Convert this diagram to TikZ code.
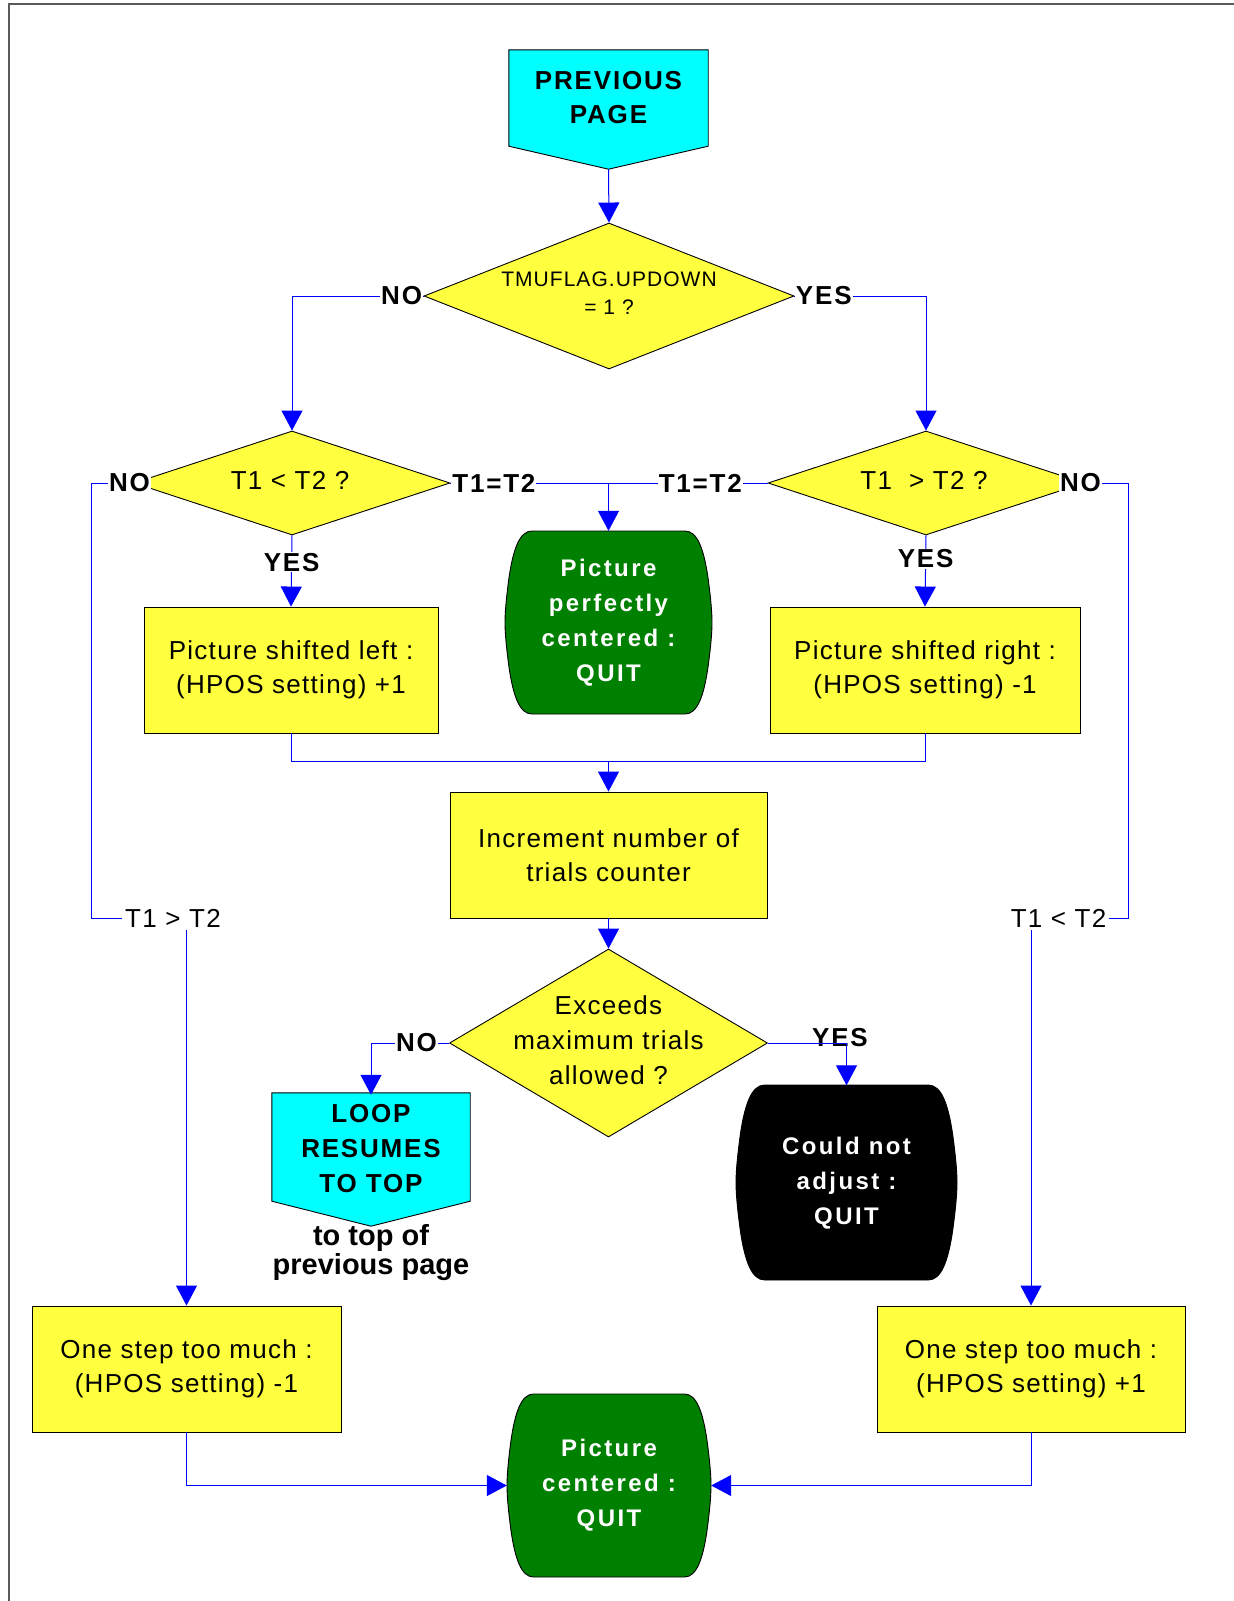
\documentclass[tikz,border=0pt]{standalone}
\usepackage{fontspec}
\setmainfont{Liberation Sans}
\newfontfamily\plainfont{Liberation Sans}[LetterSpace=5]
\newfontfamily\tagfont{Liberation Sans}[LetterSpace=7]
\newfontfamily\quitfont{Liberation Sans}[LetterSpace=10]
\usetikzlibrary{shapes.geometric,arrows.meta,calc,backgrounds}

\definecolor{boxyellow}{RGB}{255,255,64}
\definecolor{pagecyan}{RGB}{0,255,255}
\definecolor{quitgreen}{RGB}{0,128,0}
\definecolor{linkblue}{RGB}{0,0,255}
\definecolor{framegray}{RGB}{90,90,90}

% barrel shaped terminal: centre x, centre y, half width, half height, fill
\newcommand{\barrel}[5]{%
  \begin{scope}[shift={(#1,#2)}, x=#3pt, y=#4pt]
    \draw[line width=0.9pt, fill=#5] (-0.74,1) -- (0.74,1)
      .. controls (0.86,1) and (0.92,0.8) .. (0.96,0.5)
      .. controls (0.99,0.25) and (1,0.1) .. (1,0)
      .. controls (1,-0.1) and (0.99,-0.25) .. (0.96,-0.5)
      .. controls (0.92,-0.8) and (0.86,-1) .. (0.74,-1)
      -- (-0.74,-1)
      .. controls (-0.86,-1) and (-0.92,-0.8) .. (-0.96,-0.5)
      .. controls (-0.99,-0.25) and (-1,-0.1) .. (-1,0)
      .. controls (-1,0.1) and (-0.99,0.25) .. (-0.96,0.5)
      .. controls (-0.92,0.8) and (-0.86,1) .. (-0.74,1) -- cycle;
  \end{scope}}

\tikzset{
  conn/.style={draw=linkblue, line width=1pt},
  arr/.style={conn, -{Triangle[length=20pt, width=21pt]}},
  stepbox/.style={rectangle, draw=black, line width=0.9pt, fill=boxyellow, inner sep=0pt,
    align=center, font=\plainfont\fontsize{26}{34}\selectfont},
  decision/.style={diamond, draw=black, line width=0.9pt, fill=boxyellow, inner sep=0pt},
  asktext/.style={align=center, inner sep=0pt, font=\plainfont\fontsize{26}{34}\selectfont},
  quittext/.style={rectangle, align=center, text=white, inner sep=0pt,
    font=\quitfont\bfseries\fontsize{24}{35}\selectfont},
  pagetext/.style={rectangle, align=center, inner sep=0pt,
    font=\tagfont\bfseries\fontsize{26}{34}\selectfont},
  answer/.style={fill=white, inner sep=1pt, font=\tagfont\bfseries\fontsize{26}{30}\selectfont},
  rangetag/.style={inner sep=3pt, font=\plainfont\fontsize{26}{30}\selectfont},
}

\begin{document}
\begin{tikzpicture}[x=1pt, y=-1pt]
  \useasboundingbox (0,0) rectangle (1234,1601);
  \begin{pgfonlayer}{background}
    \fill[white] (0,0) rectangle (1234,1601);
  \end{pgfonlayer}
  \draw[framegray, line width=2.2pt] (9,1601) -- (9,4) -- (1234,4);

  % entry from the previous page
  \node[pagetext, minimum width=199pt, minimum height=96pt] (prev) at (608.5,98) {PREVIOUS\\PAGE};
  \begin{pgfonlayer}{background}
    \draw[line width=0.9pt, fill=pagecyan] (prev.north west) -- (prev.north east) -- (prev.south east)
      -- ([yshift=-23pt]prev.south) -- (prev.south west) -- cycle;
  \end{pgfonlayer}

  % the three tests
  \node[decision, minimum width=370pt, minimum height=146pt] (flag) at (609,296) {};
  \node[asktext, font=\plainfont\fontsize{21}{28}\selectfont] (flagtxt) at (609,293) {TMUFLAG.UPDOWN\\= 1 ?};
  \node[decision, minimum width=316pt, minimum height=104pt] (lt) at (292,483) {};
  \node[asktext, font=\plainfont\fontsize{26}{34}\selectfont] (lttxt) at (290,480) {T1 < T2 ?};
  \node[decision, minimum width=316pt, minimum height=104pt] (gt) at (926,483) {};
  \node[asktext, font=\plainfont\fontsize{26}{34}\selectfont] (gttxt) at (924,480) {T1\ \ > T2 ?};

  % outcomes
  \barrel{608.5}{622.5}{103.5}{91.5}{quitgreen}
  \node[quittext, minimum width=207pt, minimum height=183pt] (fin1) at (608.5,622.5) {Picture\\perfectly\\centered :\\QUIT};
  \node[stepbox, minimum width=294pt, minimum height=126pt] (shl) at (291,670) {Picture shifted left :\\(HPOS setting) +1};
  \node[stepbox, minimum width=310pt, minimum height=126pt] (shr) at (925,670) {Picture shifted right :\\(HPOS setting) -1};
  \node[stepbox, minimum width=317pt, minimum height=126pt] (incr) at (608.5,855) {Increment number of\\trials counter};

  \node[decision, minimum width=318pt, minimum height=188pt] (tries) at (608.5,1043) {};
  \node[asktext, font=\plainfont\fontsize{26}{35}\selectfont] (triestxt) at (608.5,1040) {Exceeds\\maximum trials\\allowed ?};

  % loop back to the top
  \node[pagetext, minimum width=198pt, minimum height=108pt, font=\tagfont\bfseries\fontsize{26}{35}\selectfont] (loop) at (371,1149) {LOOP\\RESUMES\\TO TOP};
  \begin{pgfonlayer}{background}
    \draw[line width=0.9pt, fill=pagecyan] ([yshift=2pt]loop.north west) -- ([yshift=2pt]loop.north east) -- ([yshift=2pt]loop.south east)
      -- ([yshift=-23pt]loop.south) -- ([yshift=2pt]loop.south west) -- cycle;
  \end{pgfonlayer}
  \node[align=center, inner sep=0pt, font=\bfseries\fontsize{29}{29}\selectfont] (loopnote) at (371,1253) {to top of\\previous page};

  \barrel{846.5}{1182.5}{110.5}{97.5}{black}
  \node[quittext, minimum width=221pt, minimum height=195pt] (fail) at (846.5,1183) {Could not\\adjust :\\QUIT};

  \node[stepbox, minimum width=309pt, minimum height=126pt] (os1) at (186.5,1369) {One step too much :\\(HPOS setting) -1};
  \node[stepbox, minimum width=308pt, minimum height=126pt] (os2) at (1031,1369) {One step too much :\\(HPOS setting) +1};
  \barrel{609}{1485.5}{102}{91.5}{quitgreen}
  \node[quittext, minimum width=204pt, minimum height=183pt] (fin2) at (609,1485.5) {Picture\\centered :\\QUIT};

  % side branches
  \node[rangetag] (gtlbl) at (173,918) {T1 > T2};
  \node[rangetag] (ltlbl) at (1058.5,918) {T1 < T2};
  \coordinate (railL) at (91,918);
  \coordinate (railR) at (1128,918);
  \coordinate (merge) at ([yshift=30pt]incr.north);
  \node[answer, fill=none] (yesD) at (840,1038) {YES};

  % connectors
  \draw[arr] ([yshift=-23pt]prev.south) -- (flag.north);
  \draw[arr] (flag.west) node[answer, anchor=east] (noA) {NO} -| (lt.north);
  \draw[arr] (flag.east) node[answer, anchor=west] (yesT) {YES} -| (gt.north);
  \draw[conn] (lt.east) -- node[answer, pos=0.137] (eqA) {T1=T2} node[answer, pos=0.788] (eqB) {T1=T2} (gt.west);
  \draw[arr] (lt.east -| fin1.north) -- (fin1.north);
  \draw[arr] (lt.south) -- node[answer, pos=0.375] (yesA) {YES} (shl.north);
  \draw[arr] (gt.south) -- node[answer, pos=0.33] (yesB) {YES} (shr.north);
  \draw[conn] (lt.west) node[answer, xshift=-4pt] (noB) {NO} -| (railL) -- (gtlbl.west);
  \draw[arr] (gtlbl.south -| os1.north) -- (os1.north);
  \draw[conn] (gt.east) node[answer, xshift=-4pt] (noC) {NO} -| (railR) -- (ltlbl.east);
  \draw[arr] (ltlbl.south -| os2.north) -- (os2.north);
  \draw[conn] (shl.south) |- (merge) -| (shr.south);
  \draw[arr] (merge) -- (incr.north);
  \draw[arr] (incr.south) -- (tries.north);
  \draw[arr] (tries.west) -| node[answer, pos=0.208] (noD) {NO} (loop.north);
  \draw[arr] (tries.east) -| (fail.north);
  \draw[arr] (os1.south) |- (fin2.west);
  \draw[arr] (os2.south) |- (fin2.east);
\end{tikzpicture}
\end{document}
